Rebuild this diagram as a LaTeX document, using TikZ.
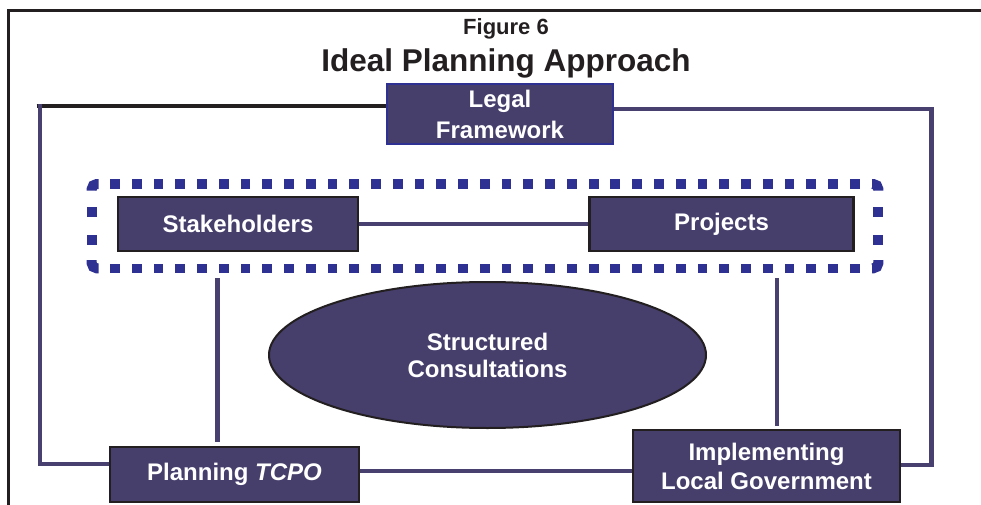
\documentclass[tikz,border=0pt]{standalone}
\usepackage{fontspec}
\setmainfont{Liberation Sans}
\usetikzlibrary{shapes.geometric}
\definecolor{boxfill}{RGB}{70,63,108}
\definecolor{linecol}{RGB}{72,65,112}
\definecolor{dotcol}{RGB}{46,49,146}
\definecolor{ink}{RGB}{35,31,32}
\begin{document}
\begin{tikzpicture}[x=1pt,y=-1pt,
  box/.style={draw=ink, line width=2.2pt, fill=boxfill, text=white,
    font=\bfseries\fontsize{24}{30}\selectfont, align=center, inner sep=0pt},
  conn/.style={draw=linecol, line width=4.2pt},
  frameline/.style={draw=ink, line width=2.4pt},
  dotsq/.style={fill=dotcol},
  dotcorner/.style={draw=dotcol, line width=10pt, rounded corners=5pt}]
\useasboundingbox (0,0) rectangle (981,505);
% outer frame
\draw[frameline] (8.5,505) -- (8.5,10.5) -- (981,10.5);
% title
\node[anchor=base, text=ink, font=\bfseries\fontsize{22}{26}\selectfont] (fig) at (506,35) {Figure 6};
\node[anchor=base, text=ink, font=\bfseries\fontsize{31.5}{36}\selectfont] (title) at (506,72) {Ideal Planning Approach};
% dotted group
\foreach \i in {0,...,34} {
  \fill[dotsq] (110+\i*21.76,179) rectangle +(9.8,9.8);
  \fill[dotsq] (110+\i*21.76,263.5) rectangle +(9.8,9.8);
}
\foreach \yy in {207,235} {
  \fill[dotsq] (86.7,\yy) rectangle +(10,10);
  \fill[dotsq] (873.4,\yy) rectangle +(10,10);
}
\draw[dotcorner] (98.5,184) -- (91.7,184) -- (91.7,190.5);
\draw[dotcorner] (91.7,260) -- (91.7,268.3) -- (98.5,268.3);
\draw[dotcorner] (872,184) -- (878.3,184) -- (878.3,190.5);
\draw[dotcorner] (878.3,260) -- (878.3,268.3) -- (872,268.3);
% nodes
\node[box, draw=dotcol, line width=1.8pt, minimum width=226pt, minimum height=60pt,
  font=\bfseries\fontsize{24}{31}\selectfont] (legal) at (500,114) {Legal\\Framework};
\node[box, minimum width=240pt, minimum height=54pt] (stake) at (238,224) {Stakeholders};
\node[box, minimum width=264pt, minimum height=54pt] (proj) at (721.5,224) {Projects};
\node[box, minimum width=249pt, minimum height=55pt] (plan) at (234.5,474.5) {Planning \textit{TCPO}};
\node[box, minimum width=267pt, minimum height=72pt,
  font=\bfseries\fontsize{24}{29}\selectfont] (impl) at (766.5,466) {Implementing\\Local Government};
\node[draw=ink, line width=2pt, fill=boxfill, text=white, ellipse, inner sep=0pt,
  minimum width=437pt, minimum height=146pt, align=center,
  font=\bfseries\fontsize{24}{27}\selectfont] (cons) at (487.5,355) {Structured\\Consultations};
% connectors
\coordinate (tl) at (36.7,106);
\draw[frameline, line width=4pt] (tl) -- (tl -| legal.west);
\coordinate (lc) at (40,104);
\coordinate (lb) at (40,464);
\draw[conn] (lc) -- (lb) -- (lb -| plan.west);
\coordinate (rt) at (931.5,108.8);
\coordinate (rb) at (931.5,465);
\draw[conn] (rt -| legal.east) -- (rt) -- (rb) -- (rb -| impl.east);
\draw[conn] (stake) -- (proj);
\coordinate (v1) at (217.5,278);
\draw[conn, shorten >=4pt] (v1) -- (v1 |- plan.north);
\coordinate (v2) at (777,278);
\draw[conn, shorten >=3pt] (v2) -- (v2 |- impl.north);
\coordinate (pl) at (0,471);
\draw[conn] (pl -| plan.east) -- (pl -| impl.west);
\end{tikzpicture}
\end{document}
